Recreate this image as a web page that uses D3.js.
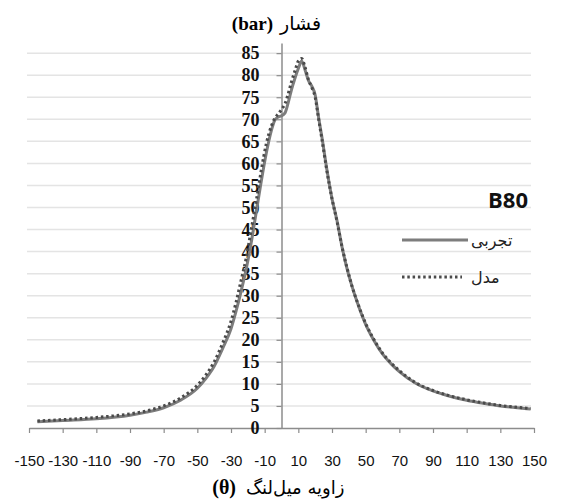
<!DOCTYPE html>
<html>
<head>
<meta charset="utf-8">
<script src="https://cdn.jsdelivr.net/npm/d3@7"></script>
<style>
  body { margin: 0; background: #fff; }
  svg { display: block; }
</style>
</head>
<body>
<svg id="chart"></svg>
<script>
// crank angle (deg)
var theta = [-145, -130, -110, -90, -80, -70, -60, -50, -45, -40, -35, -30, -27, -24, -21, -18, -15, -12, -9, -6, -4, -2,
             0, 2, 4, 6, 8, 10, 12, 14, 16, 18, 20, 22, 24, 27, 30, 33, 36, 39, 42, 45, 50, 55, 60, 65, 70, 80, 90, 100,
             110, 120, 130, 140, 148];

// pressure (bar), experiment
var pExp = [1.4, 1.7, 2.1, 2.9, 3.6, 4.6, 6.3, 9.0, 11.2, 14.0, 18.0, 22.5, 26.5, 31, 36, 42, 49, 56, 62.4, 67.5, 69.8, 70.5,
            70.8, 71.4, 73.8, 76.8, 79.3, 81.5, 83.2, 81.2, 78.8, 77.5, 75.5, 70.5, 66, 58.5, 52, 47, 41, 36, 32, 28.5, 23.5, 19.8, 16.8, 14.6, 12.8, 10.1, 8.4, 7.2,
            6.3, 5.6, 5.0, 4.6, 4.3];

// pressure (bar), model
var pModel = [1.6, 1.9, 2.4, 3.2, 3.9, 5.0, 6.8, 9.7, 12.0, 15.0, 19.2, 24.2, 28.5, 33.5, 38.5, 45, 51.5, 58.5, 64.5, 68.5, 70.2, 71.2,
              72.2, 73.5, 75.8, 78.6, 81.0, 83.2, 83.8, 81.8, 79, 77.2, 75, 70.2, 65.5, 58.2, 52, 46.8, 41, 36.2, 32, 28.6, 23.7, 20, 17, 14.8, 13, 10.2, 8.5, 7.3,
              6.4, 5.7, 5.1, 4.7, 4.4];

var xTicks = d3.range(-150, 151, 20);
var yTicks = d3.range(0, 86, 5);

var seriesNames = ['تجربی', 'مدل'];

var width = 561,
    height = 503;

var svg = d3.select('#chart')
    .attr('width', width)
    .attr('height', height);

var x = d3.scaleLinear().domain([-150, 150]).range([29, 534]);
var y = d3.scaleLinear().domain([0, 87.3]).range([428, 43]);

// gridlines
svg.append('g')
  .selectAll('line')
  .data(yTicks.filter(function(d) { return d > 0; }))
  .enter().append('line')
    .attr('x1', 27)
    .attr('x2', 531)
    .attr('y1', function(d) { return y(d); })
    .attr('y2', function(d) { return y(d); })
    .attr('stroke', '#e4e4e4')
    .attr('stroke-width', 1.5);

// x axis
var gx = svg.append('g')
    .attr('transform', 'translate(0,' + y(0) + ')')
    .call(d3.axisBottom(x).tickValues(xTicks).tickFormat(function(d) { return String(d); })
      .tickSize(5).tickSizeOuter(0).tickPadding(22));
gx.select('.domain').attr('stroke', '#8c8c8c').attr('stroke-width', 1.5);
gx.selectAll('.tick line').attr('stroke', '#8c8c8c').attr('stroke-width', 1.2);
gx.selectAll('.tick text')
    .attr('fill', '#111')
    .style('font-family', '"Liberation Sans", Arial, sans-serif')
    .style('font-size', '15px');

// y axis
var gy = svg.append('g')
    .attr('transform', 'translate(' + x(0) + ',0)')
    .call(d3.axisLeft(y).tickValues(yTicks).tickSize(5).tickSizeOuter(0).tickPadding(17));
gy.select('.domain').attr('stroke', '#8c8c8c').attr('stroke-width', 1.5);
gy.selectAll('.tick line').attr('stroke', '#8c8c8c').attr('stroke-width', 1.2);
gy.selectAll('.tick text')
    .attr('fill', '#111')
    .style('font-family', '"Liberation Serif", "Times New Roman", serif')
    .style('font-weight', 'bold')
    .style('font-size', '18px');

// curves
var line = function(vals) {
  return d3.line()
      .x(function(d, i) { return x(theta[i]); })
      .y(function(d) { return y(d); })
      .curve(d3.curveMonotoneX)(vals);
};

svg.append('path')
    .attr('d', line(pExp))
    .attr('fill', 'none')
    .attr('stroke', '#7d7d7d')
    .attr('stroke-width', 3);

svg.append('path')
    .attr('d', line(pModel))
    .attr('fill', 'none')
    .attr('stroke', '#4a4a4a')
    .attr('stroke-width', 3)
    .attr('stroke-dasharray', '2.5,2.8');

// titles
svg.append('text')
    .attr('x', 273).attr('y', 30)
    .attr('text-anchor', 'end')
    .style('font-family', '"Liberation Serif", serif')
    .style('font-weight', 'bold')
    .style('font-size', '19px')
    .text('(bar)');
svg.append('text')
    .attr('x', 280).attr('y', 30)
    .attr('text-anchor', 'start')
    .style('font-family', '"DejaVu Sans", sans-serif')
    .style('font-size', '19px')
    .text('فشار');

svg.append('text')
    .attr('x', 236).attr('y', 494)
    .attr('text-anchor', 'end')
    .style('font-family', '"Liberation Serif", serif')
    .style('font-weight', 'bold')
    .style('font-size', '20px')
    .text('(θ)');
svg.append('text')
    .attr('x', 246).attr('y', 494)
    .attr('text-anchor', 'start')
    .style('font-family', '"DejaVu Sans", sans-serif')
    .style('font-size', '18px')
    .text('زاویه میل\u200cلنگ');

// legend
svg.append('text')
    .attr('x', 528).attr('y', 208)
    .attr('text-anchor', 'end')
    .style('font-family', '"Open Sans", "Liberation Sans", sans-serif')
    .style('font-weight', 'bold')
    .style('font-size', '22px')
    .attr('fill', '#111')
    .text('B80');

var legendY = [240, 277];
var legend = svg.append('g');
legend.selectAll('line')
  .data(seriesNames)
  .enter().append('line')
    .attr('x1', 402)
    .attr('x2', function(d, i) { return i === 0 ? 468 : 462; })
    .attr('y1', function(d, i) { return legendY[i]; })
    .attr('y2', function(d, i) { return legendY[i]; })
    .attr('stroke', function(d, i) { return i === 0 ? '#7d7d7d' : '#4a4a4a'; })
    .attr('stroke-width', 3)
    .attr('stroke-dasharray', function(d, i) { return i === 0 ? null : '2.5,2.8'; });
legend.selectAll('text')
  .data(seriesNames)
  .enter().append('text')
    .attr('x', 471)
    .attr('y', function(d, i) { return legendY[i] + 6; })
    .attr('text-anchor', 'start')
    .style('font-family', '"DejaVu Sans", sans-serif')
    .style('font-size', '16px')
    .attr('fill', '#222')
    .text(function(d) { return d; });
</script>
</body>
</html>
